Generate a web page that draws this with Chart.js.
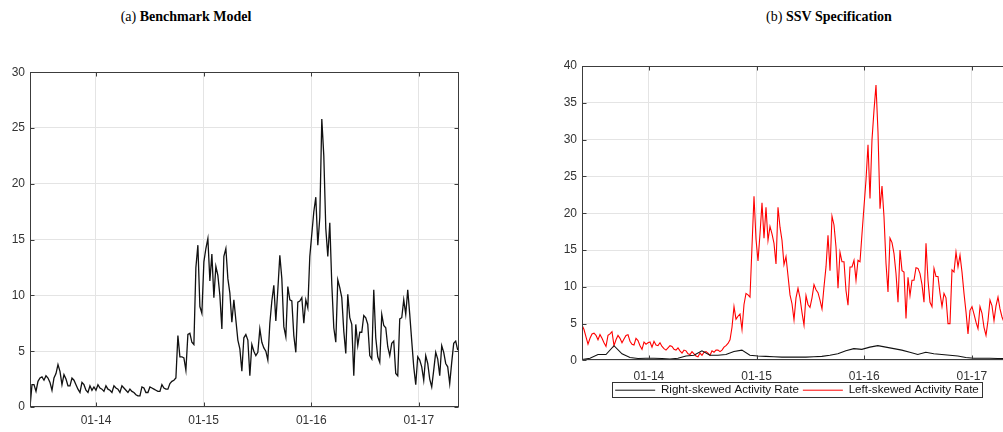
<!DOCTYPE html>
<html>
<head>
<meta charset="utf-8">
<script src="https://cdn.jsdelivr.net/npm/chart.js@4.4.1/dist/chart.umd.min.js"></script>
<style>
  html, body { margin: 0; padding: 0; background: #fff; overflow: hidden; }
  body { width: 1003px; height: 432px; position: relative; }
  .title {
    position: absolute; top: 9px; transform: translateX(-50%);
    font-family: 'Liberation Serif', 'DejaVu Serif', serif; font-size: 14px;
    color: #000; white-space: nowrap;
  }
  .panel { position: absolute; }
</style>
</head>
<body>
<div class="title" style="left:186px">(a) <b>Benchmark Model</b></div>
<div class="title" style="left:829px">(b) <b>SSV Specification</b></div>
<div class="panel" style="left:0;top:60px;width:470px;height:372px"><canvas id="chartA"></canvas></div>
<div class="panel" style="left:540px;top:50px;width:480px;height:382px"><canvas id="chartB"></canvas></div>
<script>
// time axis: one tick at January of each year
const tickYears = [2014, 2015, 2016, 2017];
const tickLabels = ['01-14', '01-15', '01-16', '01-17'];

// (a) Benchmark model, roughly weekly observations (decimal years for the span)
const benchStart = 2013.387;
const benchEnd = 2017.361;
const benchmark = [
  0, 2.0, 2.0, 1.4, 2.3, 2.6, 2.7, 2.4, 2.8, 2.6,
  2.2, 1.5, 2.6, 3.0, 3.8, 3.2, 2.0, 2.9, 2.5, 1.9,
  1.9, 2.6, 2.4, 2.0, 1.6, 1.3, 2.2, 2.0, 1.5, 1.3,
  1.9, 1.5, 1.8, 1.5, 2.0, 1.7, 1.6, 1.4, 1.9, 1.6,
  1.5, 1.3, 1.9, 1.7, 1.6, 1.3, 1.9, 1.7, 1.5, 1.3,
  1.6, 1.4, 1.3, 1.1, 1.0, 1.0, 1.8, 1.7, 1.3, 1.3,
  1.8, 1.7, 1.6, 1.5, 1.4, 1.4, 2.0, 1.7, 1.6, 1.6,
  2.1, 2.3, 2.4, 2.6, 6.4, 4.5, 4.5, 4.4, 3.3, 6.5,
  6.6, 5.8, 5.6, 12.5, 14.5, 9.0, 8.4, 13.0, 14.2, 15.1,
  11.3, 13.7, 9.8, 12.6, 11.8, 10.0, 7.0, 13.5, 14.2, 11.5,
  10.2, 7.6, 9.6, 7.8, 6.0, 5.2, 3.2, 6.2, 6.5, 6.0,
  2.8, 5.6, 5.0, 4.6, 4.9, 7.0, 5.8, 5.3, 5.0, 4.2,
  7.5, 9.5, 10.9, 7.7, 10.5, 13.6, 11.5, 7.2, 6.3, 10.8,
  9.6, 9.5, 6.4, 4.9, 9.4, 9.5, 9.8, 7.5, 9.6, 8.9,
  13.5, 15.5, 17.5, 18.8, 14.5,
  17.0, 25.8, 22.5, 16.0, 13.5, 16.5, 11.0, 7.1, 5.8, 11.4,
  10.7, 9.8, 6.8, 4.8, 10.1, 8.0, 7.4, 2.8, 7.4, 5.5,
  6.7, 6.7, 8.2, 8.0, 7.4, 4.6, 4.3, 10.5, 6.2, 4.5,
  4.0, 8.3, 7.3, 7.1, 5.4, 4.6, 5.7, 5.9, 3.0, 2.8,
  7.9, 8.0, 9.6, 8.3, 10.5, 8.3, 5.9, 3.6, 2.0, 4.5,
  4.2, 3.6, 2.4, 4.6, 3.9, 2.5, 1.8, 3.3, 4.9, 4.3,
  2.8, 5.5, 4.9, 3.9, 3.6, 2.1, 4.0, 5.7, 5.9, 5.1,
];

// (b) SSV specification
const ssvStart = 2013.378;
const ssvEnd = 2017.373;
const axisEnd = 2017.373;
// left-skewed activity rate (red), weekly
const leftSkewed = [
  4.8, 4.2, 3.2, 2.2, 3.0, 3.6, 3.7, 3.4, 2.8, 3.5,
  3.0, 2.4, 1.9, 3.4, 3.6, 3.9, 2.0, 2.8, 3.4, 3.0,
  2.4, 2.9, 3.4, 3.5, 2.6, 2.2, 2.1, 3.0, 2.7, 2.0,
  1.5, 2.5, 2.2, 2.4, 2.5, 1.8, 2.6, 2.1, 2.0, 2.4,
  1.9, 1.6, 1.4, 1.7, 2.0, 1.9, 1.5, 1.4, 1.7, 1.3,
  1.0, 1.4, 1.3, 0.9, 0.8, 1.2, 0.9, 0.6, 0.5, 1.0,
  0.7, 1.1, 1.2, 1.0, 0.7, 1.3, 1.1, 1.4, 1.4, 1.2,
  1.4, 1.8, 2.0, 2.3, 2.8, 4.5, 7.3, 5.6, 6.0, 6.3,
  4.2, 7.6, 9.1, 8.9, 8.6, 15.5, 22.3, 16.5, 13.5, 17.2,
  21.4, 16.6, 20.8, 16.3, 18.2, 17.2, 15.9, 13.1, 20.8, 18.1,
  16.3, 13.0, 14.1, 11.5, 8.9, 7.7, 5.5, 8.5, 9.8, 8.5,
  6.5, 4.8, 8.8, 7.6, 7.2, 8.5, 10.3, 9.6, 9.2, 8.2,
  7.0, 10.0, 12.7, 17.0, 12.2, 19.6, 18.4, 15.4, 9.8, 14.7,
  13.4, 13.4, 9.5, 7.5, 12.7, 12.7, 13.6, 10.9,
  13.6, 13.4, 17.2, 20.9, 24.5, 29.3, 22.0, 30.0, 34.0, 37.4,
  31.0, 20.6, 23.7, 19.5, 13.2, 9.3, 16.6, 16.0, 14.5, 11.8,
  7.9, 15.0, 12.2, 12.0, 5.7, 11.3, 8.8, 10.9, 10.9, 12.6,
  12.5, 11.8, 10.3, 7.9, 15.9, 10.9, 7.9, 7.3, 12.5, 11.4,
  11.4, 9.1, 7.3, 9.1, 8.5, 5.0, 5.0, 12.3, 12.0, 14.7,
  12.7, 14.3, 12.0, 9.1, 6.6, 3.6, 6.8, 7.3, 6.3, 5.2,
  4.3, 7.3, 6.4, 4.5, 3.4, 5.4, 8.2, 7.4, 5.4, 7.4,
  8.6, 7.0, 5.9, 5.2, 6.4, 4.8, 5.6, 5.0,
];
// right-skewed activity rate (black), smooth, read every 4 weeks
const rightEnd = 2017.315;
const rightSkewed = [
  0.1, 0.3, 0.8, 0.8, 2.0, 0.9, 0.4, 0.25, 0.3, 0.3,
  0.25, 0.2, 0.3, 0.6, 0.7, 1.3, 0.7, 0.7, 0.8, 1.2,
  1.4, 0.7, 0.6, 0.55, 0.5, 0.45, 0.45, 0.45, 0.45, 0.5,
  0.55, 0.7, 0.9, 1.3, 1.6, 1.5, 1.8, 2.0, 1.8, 1.6,
  1.4, 1.1, 0.8, 1.1, 0.9, 0.8, 0.7, 0.6, 0.4, 0.3,
  0.3, 0.3, 0.25, 0.25,
];

const TEXT = '#333333';
const GRID = '#e4e4e4';
const FRAME = '#3c3c3c';
const TICK_FONT = { family: "'Liberation Sans', Arial, sans-serif", size: 12 };
const LEGEND_FONT = { family: "'Liberation Sans', Arial, sans-serif", size: 11.6 };
const BLACK = '#111111';
const RED = '#ff0000';

function toPoints(values, start, end) {
  const step = (end - start) / (values.length - 1);
  return values.map((v, i) => ({ x: start + i * step, y: v }));
}

// MATLAB-like box: full frame, inward ticks, framed legend
const boxFrame = {
  id: 'boxFrame',
  afterDraw(chart) {
    const { ctx, chartArea: a, scales } = chart;
    const l = Math.round(a.left) + 0.5, r = Math.round(a.right) - 0.5;
    const t = Math.round(a.top) + 0.5, b = Math.round(a.bottom) - 0.5;
    ctx.save();
    ctx.strokeStyle = FRAME;
    ctx.lineWidth = 1;
    ctx.strokeRect(l, t, r - l, b - t);
    ctx.beginPath();
    scales.x.ticks.forEach(tk => {
      const px = Math.round(scales.x.getPixelForValue(tk.value)) + 0.5;
      ctx.moveTo(px, b); ctx.lineTo(px, b - 4);
      ctx.moveTo(px, t); ctx.lineTo(px, t + 4);
    });
    scales.y.ticks.forEach(tk => {
      const py = Math.round(scales.y.getPixelForValue(tk.value)) + 0.5;
      ctx.moveTo(l, py); ctx.lineTo(l + 4, py);
      ctx.moveTo(r, py); ctx.lineTo(r - 4, py);
    });
    ctx.stroke();

    const lg = chart.legend;
    if (lg && lg.options.display && lg.legendHitBoxes.length) {
      const hb = lg.legendHitBoxes;
      const left = Math.min(...hb.map(h => h.left));
      const right = Math.max(...hb.map(h => h.left + h.width));
      const top = hb[0].top, h = hb[0].height;
      ctx.strokeStyle = '#333';
      ctx.strokeRect(Math.round(left) - 2.5, Math.round(top) - 1.5,
        Math.round(right - left) + 6, Math.round(h) + 3);
    }
    ctx.restore();
  },
};

function makeOptions(cfg) {
  return {
    responsive: true,
    maintainAspectRatio: false,
    animation: false,
    devicePixelRatio: 1,
    layout: { padding: cfg.padding },
    elements: { point: { radius: 0 }, line: { tension: 0 } },
    plugins: {
      legend: cfg.legend,
      tooltip: { enabled: false },
    },
    scales: {
      x: {
        type: 'linear',
        min: cfg.xMin,
        max: cfg.xMax,
        afterBuildTicks: s => { s.ticks = tickYears.map(v => ({ value: v })); },
        afterFit: s => { s.height = cfg.xHeight; },
        grid: { color: GRID, drawTicks: false },
        border: { display: false },
        ticks: {
          padding: cfg.xPad,
          color: TEXT,
          font: TICK_FONT,
          maxRotation: 0,
          autoSkip: false,
          callback: v => tickLabels[tickYears.indexOf(v)],
        },
      },
      y: {
        min: 0,
        max: cfg.yMax,
        afterFit: s => { s.width = cfg.yWidth; },
        grid: { color: GRID, drawTicks: false },
        border: { display: false },
        ticks: { stepSize: 5, padding: 5, color: TEXT, font: TICK_FONT },
      },
    },
  };
}

new Chart(document.getElementById('chartA'), {
  type: 'line',
  data: {
    datasets: [{
      label: 'Benchmark',
      data: toPoints(benchmark, benchStart, benchEnd),
      borderColor: BLACK,
      borderWidth: 1.3,
    }],
  },
  options: makeOptions({
    padding: { top: 9, right: 11, left: 0, bottom: 0 },
    legend: { display: false },
    xMin: benchStart, xMax: axisEnd, xHeight: 25, xPad: 6,
    yMax: 30, yWidth: 30,
  }),
  plugins: [boxFrame],
});

new Chart(document.getElementById('chartB'), {
  type: 'line',
  data: {
    datasets: [
      {
        label: 'Right-skewed Activity Rate',
        data: toPoints(rightSkewed, ssvStart, rightEnd),
        borderColor: BLACK,
        pointBorderColor: BLACK,
        pointBackgroundColor: BLACK,
        borderWidth: 1.1,
        pointBorderWidth: 1,
      },
      {
        label: 'Left-skewed Activity Rate',
        data: toPoints(leftSkewed, ssvStart, ssvEnd),
        borderColor: RED,
        pointBorderColor: RED,
        pointBackgroundColor: RED,
        borderWidth: 1.1,
        pointBorderWidth: 1,
      },
    ],
  },
  options: makeOptions({
    padding: { top: 16, right: 8, left: 0, bottom: 26 },
    legend: {
      display: true,
      position: 'bottom',
      fullSize: false,
      labels: {
        usePointStyle: true,
        pointStyle: 'line',
        pointStyleWidth: 40,
        padding: 4,
        color: '#111',
        font: LEGEND_FONT,
      },
    },
    xMin: ssvStart, xMax: axisEnd, xHeight: 20, xPad: 9,
    yMax: 40, yWidth: 42,
  }),
  plugins: [boxFrame],
});
</script>
</body>
</html>
